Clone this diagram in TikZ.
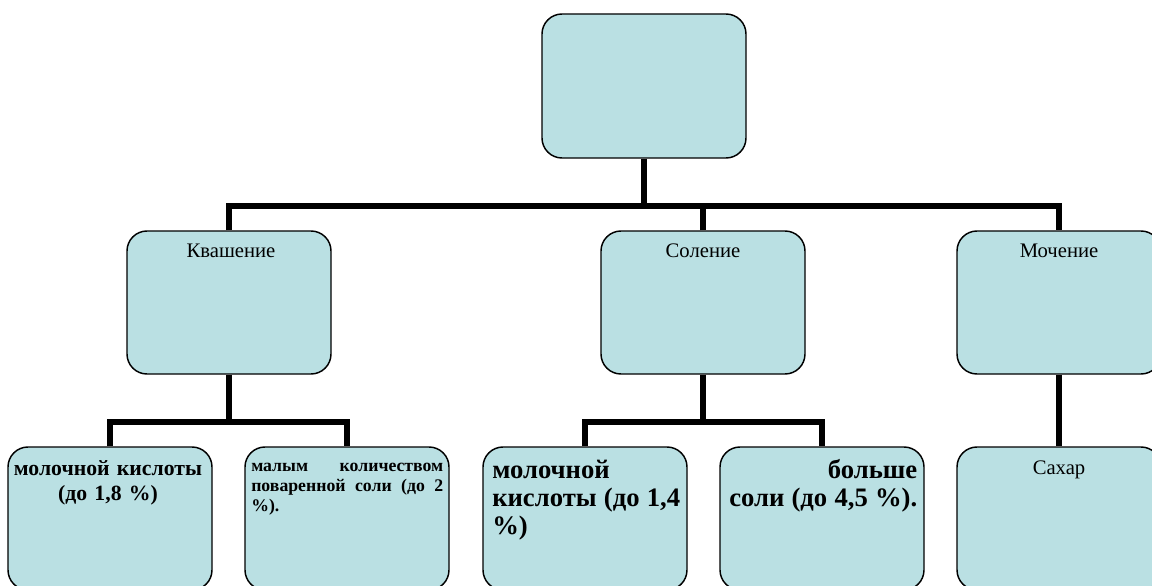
\documentclass[tikz,border=0pt]{standalone}
\usepackage{fontspec}
\setmainfont{Liberation Serif}
\usetikzlibrary{positioning}
\definecolor{cardfill}{RGB}{186,224,227}
\newcommand{\fillline}[1]{\makebox[\hsize][s]{\spaceskip=0.25em plus 1fil minus 0.08em\relax#1}}
\tikzset{
  card/.style={rectangle,draw,line width=1.1pt,fill=cardfill,rounded corners=15pt,minimum width=153pt,minimum height=107.25pt},
  rootcard/.style={card,minimum height=108pt},
  caption/.style={anchor=north,inner sep=0pt,font=\fontsize{15.5}{20}\selectfont},
  note/.style={anchor=north west,inner sep=0pt,text width=141pt,align=left,execute at begin node={\parindent=0pt}},
  bignote/.style={note,font=\bfseries\fontsize{20}{21}\selectfont},
  link/.style={line width=4.4pt}
}

\begin{document}
\begin{tikzpicture}[x=0.75pt,y=-0.75pt]
\useasboundingbox (0,0) rectangle (1152,585);
% boxes
\node[rootcard] (root) at (644,86) {};
\node[card] (kvash) at (229,302.5) {};
\node[card] (solen) at (703,302.5) {};
\node[card] (mochen) at (1059,302.5) {};
\node[card] (lactA) at (110,518.5) {};
\node[card] (saltA) at (347,518.5) {};
\node[card] (lactB) at (585,518.5) {};
\node[card] (saltB) at (822,518.5) {};
\node[card] (sugar) at (1059,518.5) {};
% texts
\node[caption] (kvashtxt) at (231,239) {\strut Квашение};
\node[caption] (solentxt) at (703,239) {\strut Соление};
\node[caption] (mochentxt) at (1059,239) {\strut Мочение};
\node[caption] (sugartxt) at (1059,456) {\strut Сахар};
\node[note,anchor=north,text width=150pt,align=center,font=\bfseries\fontsize{16.3}{18.75}\selectfont] (lactAtxt) at (108,457.5) {\strut молочной кислоты\\(до 1,8 \%)};
\node[note,text width=144pt,font=\bfseries\fontsize{13.3}{15}\selectfont] (saltAtxt) at (251,457) {\fillline{\strut малым количеством}\\\fillline{поваренной соли (до 2}\\\%).};
\node[bignote] (lactBtxt) at (492,458.4) {\strut молочной\\\fillline{кислоты (до 1,4}\\\%)};
\node[bignote] (saltBtxt) at (729,458.4) {\strut\hfill больше\\\fillline{соли (до 4,5 \%).}};
% connectors
\coordinate (topbus) at (644,206);
\coordinate (kvbus) at (229,422);
\coordinate (solbus) at (703,422);
\draw[link] (root.south) -- (topbus);
\draw[link] (kvash.north) |- (topbus) -| (mochen.north);
\draw[link] (solen.north) -- (solen.north |- topbus);
\draw[link] (kvash.south) -- (kvbus);
\draw[link] (lactA.north) |- (kvbus) -| (saltA.north);
\draw[link] (solen.south) -- (solbus);
\draw[link] (lactB.north) |- (solbus) -| (saltB.north);
\draw[link] (mochen.south) -- (sugar.north);
\end{tikzpicture}
\end{document}
